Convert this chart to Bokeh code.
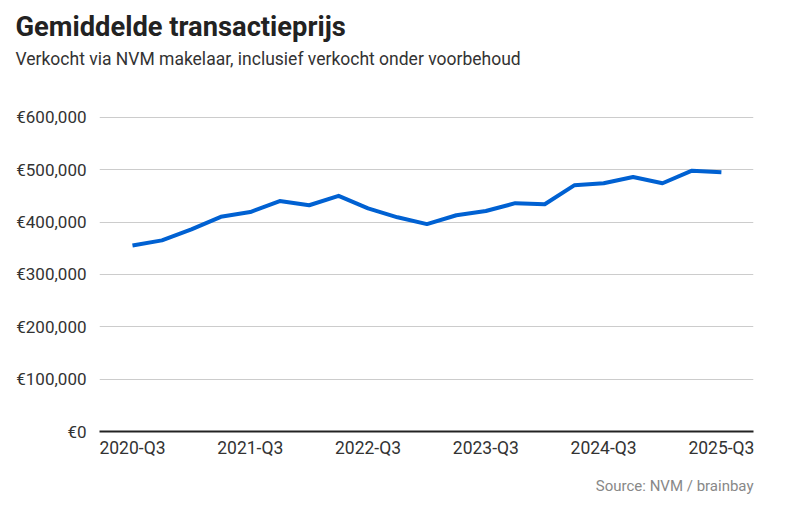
from bokeh.plotting import figure
from bokeh.models import Title, FixedTicker, Range1d
from bokeh.embed import file_html
from bokeh.resources import INLINE

quarters = ["2020-Q3", "2020-Q4", "2021-Q1", "2021-Q2", "2021-Q3", "2021-Q4", "2022-Q1",
            "2022-Q2", "2022-Q3", "2022-Q4", "2023-Q1", "2023-Q2", "2023-Q3", "2023-Q4",
            "2024-Q1", "2024-Q2", "2024-Q3", "2024-Q4", "2025-Q1", "2025-Q2", "2025-Q3"]
prices = [355000, 365000, 386000, 410000, 419000, 440000, 432000, 450000, 426000, 409000,
          396000, 413000, 421000, 436000, 434000, 470000, 474000, 486000, 474000, 498000, 495000]
y_ticks = [0, 100000, 200000, 300000, 400000, 500000, 600000]
y_tick_labels = ["€0", "€100,000", "€200,000", "€300,000", "€400,000", "€500,000", "€600,000"]
x_tick_idx = [0, 4, 8, 12, 16, 20]

xs = list(range(len(quarters)))

p = figure(width=778, height=508, output_backend="svg", toolbar_location=None,
           x_range=Range1d(-1.12, 21.09), y_range=Range1d(0, 601500),
           min_border_left=99, min_border_right=25, min_border_top=116, min_border_bottom=76)
p.title = None
p.outline_line_color = None
p.background_fill_color = "white"
p.border_fill_color = "white"

p.line(xs, prices, line_color="#0061d2", line_width=4, line_join="round", line_cap="butt")

# y axis
p.yaxis.ticker = FixedTicker(ticks=y_ticks)
p.yaxis.major_label_overrides = dict(zip(y_ticks, y_tick_labels))
p.yaxis.axis_line_color = None
p.yaxis.major_tick_line_color = None
p.yaxis.minor_tick_line_color = None
p.yaxis.major_tick_out = 0
p.yaxis.major_tick_in = 0
p.yaxis.minor_tick_out = 0
p.yaxis.major_label_standoff = 13
p.yaxis.major_label_text_font = "Roboto"
p.yaxis.major_label_text_font_size = "17px"
p.yaxis.major_label_text_color = "#333333"

# x axis
p.xaxis.ticker = FixedTicker(ticks=x_tick_idx)
p.xaxis.major_label_overrides = {i: quarters[i] for i in x_tick_idx}
p.xaxis.axis_line_color = "#222222"
p.xaxis.axis_line_width = 1.8
p.xaxis.major_tick_line_color = None
p.xaxis.minor_tick_line_color = None
p.xaxis.major_tick_out = 0
p.xaxis.major_tick_in = 0
p.xaxis.minor_tick_out = 0
p.xaxis.major_label_standoff = 6
p.xaxis.major_label_text_font = "Roboto"
p.xaxis.major_label_text_font_size = "17.5px"
p.xaxis.major_label_text_color = "#333333"

p.xgrid.grid_line_color = None
p.ygrid.ticker = FixedTicker(ticks=y_ticks[1:])
p.ygrid.grid_line_color = "#cccccc"
p.ygrid.grid_line_width = 1

# source
p.add_layout(Title(text="Source: NVM / brainbay", align="right", text_font="Roboto",
                   text_font_size="15px", text_font_style="normal", text_color="#888888",
                   standoff=28), "below")

# spacer, subtitle, title (later added is further from plot)
p.add_layout(Title(text=" ", align="left", text_font="Roboto", text_font_size="10px",
                   standoff=39), "above")
p.add_layout(Title(text="Verkocht via NVM makelaar, inclusief verkocht onder voorbehoud",
                   align="left", offset=-84, text_font="Roboto", text_font_size="17.5px",
                   text_font_style="normal", text_color="#333333", standoff=-8), "above")
p.add_layout(Title(text="Gemiddelde transactieprijs", align="left", offset=-84,
                   text_font="Roboto", text_font_size="27.3px", text_font_style="bold",
                   text_color="#222222", standoff=15), "above")

open("out.html", "w").write(file_html(p, INLINE))
